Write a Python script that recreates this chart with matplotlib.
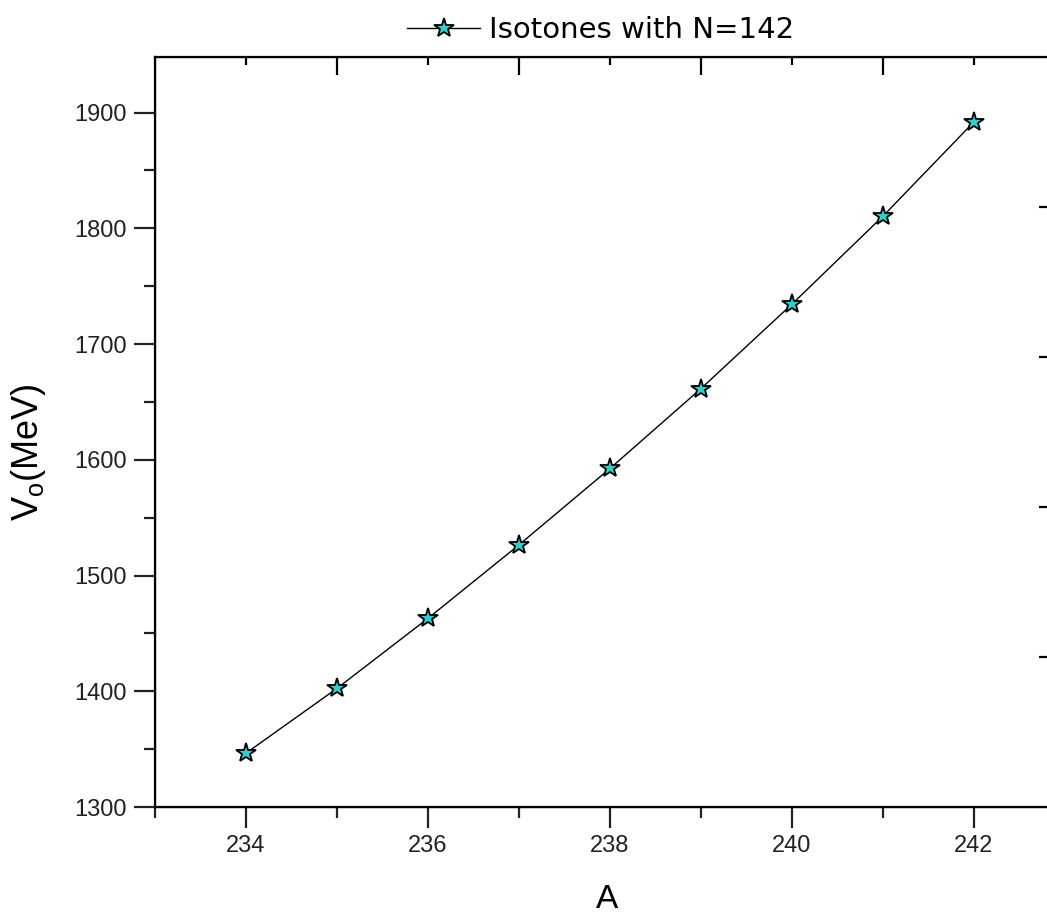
import matplotlib.pyplot as plt
from matplotlib.ticker import MultipleLocator
from matplotlib import font_manager

# mass number A and V0 (MeV) for isotones N=142
A = [234, 235, 236, 237, 238, 239, 240, 241, 242]
V0 = [1346.5, 1402.5, 1463.0, 1526.5, 1592.5, 1661.5, 1734.5, 1810.5, 1892.0]
etiqueta = 'Isotones with N=142'

nomes = {f.name for f in font_manager.fontManager.ttflist}
tem_estreita = 'Liberation Sans Narrow' in nomes
estreita = 'Liberation Sans Narrow' if tem_estreita else 'Liberation Sans'
tam_tick = 21 if tem_estreita else 17

plt.rcParams['font.family'] = ['Liberation Sans', 'DejaVu Sans']

fig = plt.figure(figsize=(10.47, 9.13), dpi=100)
ax = fig.add_axes([155/1047, 106/913, 895/1047, 750/913])

ax.plot(A, V0, color='black', linewidth=1.0, marker='*', markersize=15,
        markerfacecolor='#33cccc', markeredgecolor='black', markeredgewidth=1.3,
        label=etiqueta)

ax.set_xlim(233, 233 + 895/91)
ax.set_ylim(1300, 1948)

ax.xaxis.set_major_locator(MultipleLocator(2))
ax.xaxis.set_minor_locator(MultipleLocator(1))
ax.yaxis.set_major_locator(MultipleLocator(100))
ax.yaxis.set_minor_locator(MultipleLocator(50))

ax.tick_params(which='both', direction='out', width=1.6, labelsize=tam_tick,
               labelfontfamily=estreita, colors='#222222', top=False, right=False)
ax.tick_params(which='major', length=15, pad=5)
ax.tick_params(which='minor', length=8)
for s in ax.spines.values():
    s.set_linewidth(1.6)
ax.spines['right'].set_visible(False)

# top axis: major ticks offset by one
top = ax.twiny()
top.set_xlim(ax.get_xlim())
top.set_xticks([235, 237, 239, 241])
top.set_xticks([234, 236, 238, 240, 242], minor=True)
top.tick_params(which='both', direction='in', width=1.6, labeltop=False)
top.tick_params(which='major', length=13)
top.tick_params(which='minor', length=6)
top.spines['right'].set_visible(False)

# right side ticks
rt = ax.twinx()
rt.set_ylim(0, 1)
rt.set_yticks([0.2, 0.4, 0.6, 0.8])
rt.tick_params(direction='in', length=8, width=1.6, labelright=False)
rt.spines['right'].set_visible(False)

ax.set_xlabel('A', fontsize=24)
ax.xaxis.set_label_coords((607 - 155) / 895, -(884 - 807) / 750)
ax.set_ylabel(r'V$_\mathregular{o}$(MeV)', fontsize=26)
ax.yaxis.set_label_coords((48 - 155) / 895, (807 - 452) / 750)

ax.legend(loc='lower center', bbox_to_anchor=(0.5 - 0.002, 0.99), frameon=False,
          prop={'family': 'DejaVu Sans', 'size': 21},
          handlelength=2.5, handletextpad=0.3, borderaxespad=0.3)

plt.savefig('out.png', dpi=100)
